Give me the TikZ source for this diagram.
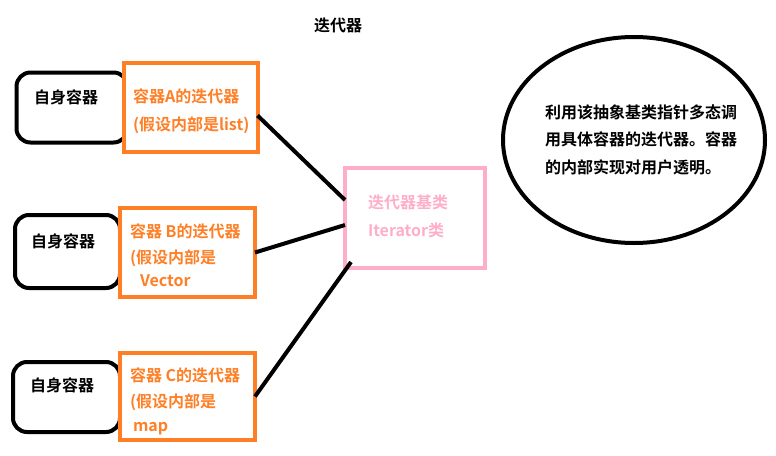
\documentclass[tikz,border=0pt]{standalone}
\usepackage{fontspec}
\setmainfont{Noto Sans CJK SC}[BoldFont={Noto Sans CJK SC Bold}]
\usetikzlibrary{shapes.geometric}
\definecolor{porange}{HTML}{FF7F27}
\definecolor{ppink}{HTML}{FFAEC9}
\begin{document}
\begin{tikzpicture}[x=1pt,y=-1pt,
  every node/.style={inner sep=0pt,outer sep=0pt,font=\fontsize{16}{19}\selectfont\bfseries},
  selfbox/.style={draw=black,line width=4pt,rounded corners=14pt,rectangle},
  itbox/.style={draw=porange,line width=4pt,rectangle,fill=white},
  basebox/.style={draw=ppink,line width=4pt,rectangle},
  otxt/.style={anchor=west,text=porange},
  ptxt/.style={anchor=west,text=ppink},
  btxt/.style={text=black},
  link/.style={draw=black,line width=4pt}]
\useasboundingbox (0,0) rectangle (776,455);

\node[btxt] (title) at (338,25) {迭代器};

% row A
\node[selfbox,minimum width=111pt,minimum height=70pt] (sa) at (72,107.5) {};
\node[btxt] (sat) at (66,97) {自身容器};
\node[itbox,minimum width=134pt,minimum height=89pt] (oa) at (190.5,107.5) {};
\node[otxt] (oa1) at (133,96) {容器A的迭代器};
\node[otxt] (oa2) at (133,125) {(假设内部是list)};

% row B
\node[selfbox,minimum width=105pt,minimum height=73pt] (sb) at (67.5,251.5) {};
\node[btxt] (sbt) at (63,241) {自身容器};
\node[itbox,minimum width=135pt,minimum height=89pt] (ob) at (187.5,252.5) {};
\node[otxt] (ob1) at (130,231) {容器 B的迭代器};
\node[otxt] (ob2) at (130,258) {(假设内部是};
\node[otxt] (ob3) at (140,281) {Vector};

% row C
\node[selfbox,minimum width=107pt,minimum height=70pt] (sc) at (66.5,397) {};
\node[btxt] (sct) at (62,385) {自身容器};
\node[itbox,minimum width=135pt,minimum height=87pt] (oc) at (187.5,396.5) {};
\node[otxt] (oc1) at (130,375) {容器 C的迭代器};
\node[otxt] (oc2) at (130,402) {(假设内部是};
\node[otxt] (oc3) at (133,429) {map};

% base class
\node[basebox,minimum width=140pt,minimum height=100pt] (pk) at (415,218) {};
\node[ptxt] (pk1) at (368,202) {迭代器基类};
\node[ptxt] (pk2) at (368,230) {Iterator类};

% ellipse
\node[draw=black,line width=4pt,ellipse,minimum width=262pt,minimum height=206pt] (el) at (634,140) {};
\node[btxt,anchor=west] (el1) at (545,112) {利用该抽象基类指针多态调};
\node[btxt,anchor=west] (el2) at (545,139) {用具体容器的迭代器。容器};
\node[btxt,anchor=west] (el3) at (545,167) {的内部实现对用户透明。};

% links
\draw[link] ([yshift=-8pt]oa.east) -- ([yshift=18pt]pk.west);
\draw[link] (ob.east) -- ([yshift=-7pt]pk.west);
\draw[link] (oc.east) -- ([shift={(6pt,6pt)}]pk.south west);
\end{tikzpicture}
\end{document}
